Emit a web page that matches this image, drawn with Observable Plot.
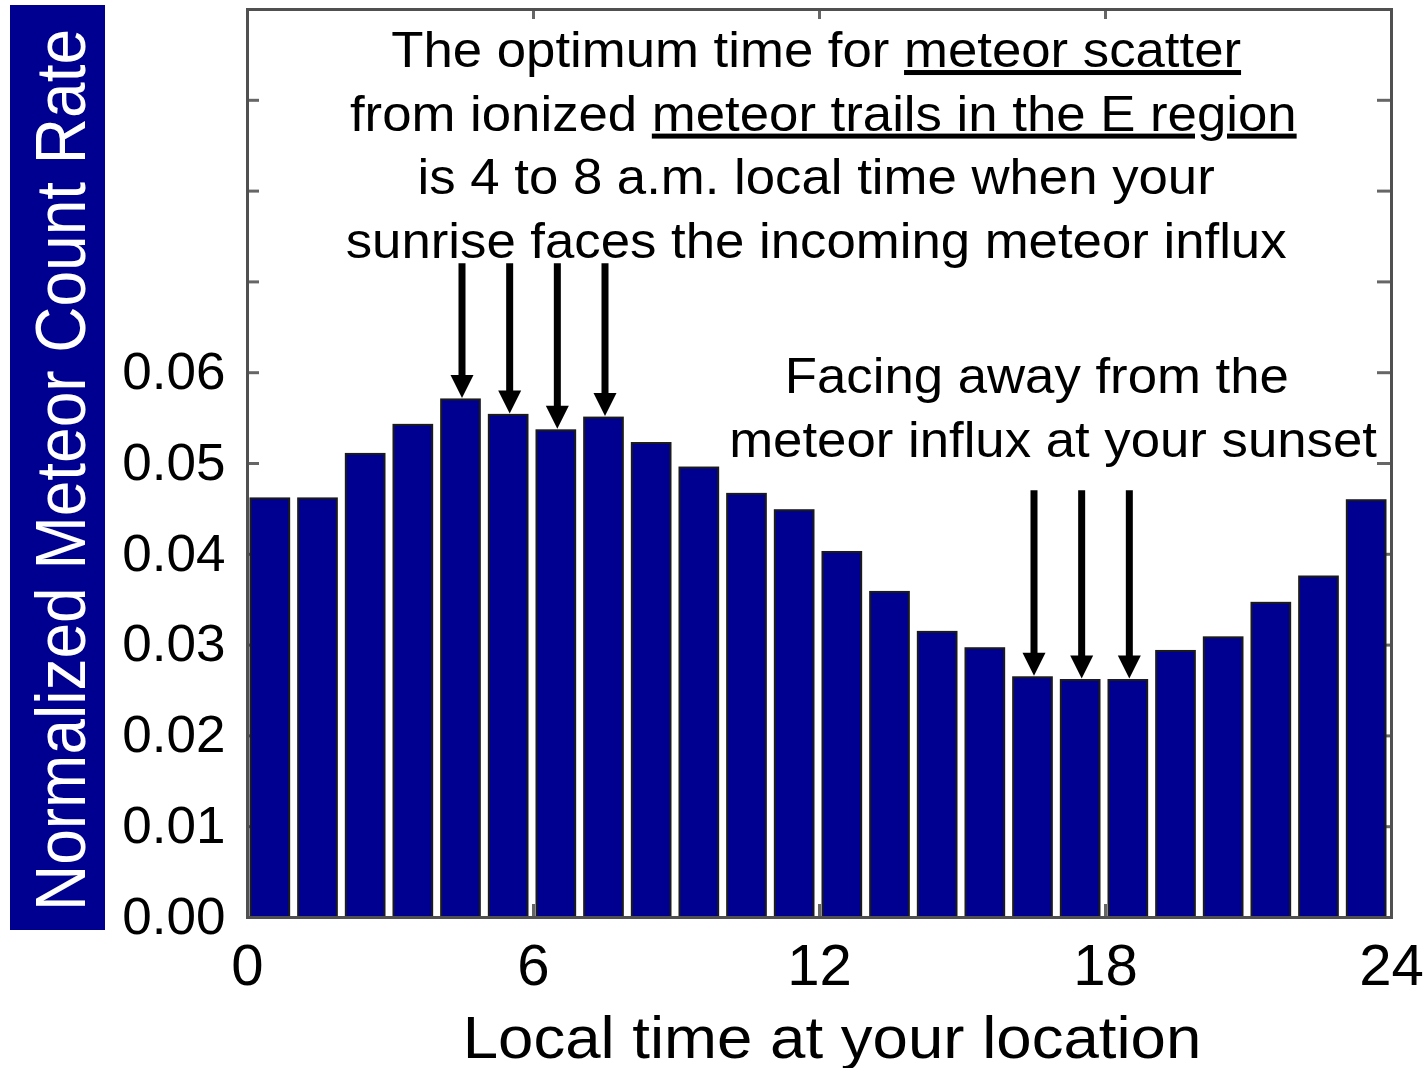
<!DOCTYPE html>
<html><head><meta charset="utf-8">
<script src="https://cdn.jsdelivr.net/npm/d3@7"></script>
<script src="https://cdn.jsdelivr.net/npm/@observablehq/plot@0.6"></script>
<style>html,body{margin:0;padding:0;background:#fff;}</style>
</head><body><div id="chart"></div>
<script>
// ---- data ----
const hours = [0,1,2,3,4,5,6,7,8,9,10,11,12,13,14,15,16,17,18,19,20,21,22,23];
const rates = [0.0461,0.0461,0.0510,0.0542,0.0570,0.0553,0.0536,0.0550,0.0522,0.0495,0.0466,0.0448,
               0.0402,0.0358,0.0314,0.0296,0.0264,0.0261,0.0261,0.0293,0.0308,0.0346,0.0375,0.0459];
const xTickLabels = [0,6,12,18,24];
const xInnerTicks = [6,12,18];
const yTickMarks = [0.01,0.02,0.03,0.04,0.05,0.06,0.07,0.08,0.09];
const yTickLabels = [0,0.01,0.02,0.03,0.04,0.05,0.06];
const sunriseArrowHours = [4,5,6,7];
const sunsetArrowHours = [16,17,18];
const sunriseArrowStart = 0.0720;
const sunsetArrowStart = 0.0470;
const yTitle = "Normalized Meteor Count Rate";
const xTitle = "Local time at your location";
const sunriseNote = [
  {x: 11.94, y: 0.0936, parts: [["The optimum time for ", false], ["meteor scatter", true]]},
  {x: 12.09, y: 0.0866, parts: [["from ionized ", false], ["meteor trails in the E region", true]]},
  {x: 11.94, y: 0.0796, parts: [["is 4 to 8 a.m. local time when your", false]]},
  {x: 11.94, y: 0.0726, parts: [["sunrise faces the incoming meteor influx", false]]}
];
const sunsetNote = [
  {x: 16.57, y: 0.0577, parts: [["Facing away from the", false]]},
  {x: 16.91, y: 0.0507, parts: [["meteor influx at your sunset", false]]}
];

const bars = hours.map((h, i) => ({h, v: rates[i]}));
const arrows = [
  ...sunriseArrowHours.map(h => ({x: h + 0.5, y1: sunriseArrowStart, y2: rates[h]})),
  ...sunsetArrowHours.map(h => ({x: h + 0.5, y1: sunsetArrowStart, y2: rates[h]}))
];

// ---- layout ----
const W = 1428, H = 1068;
const mL = 247, mR = 37, mT = 9, mB = 151;
const PW = W - mL - mR, PH = H - mT - mB;
const NAVY = "#000090";
const FONT = "'Liberation Sans', Arial, Helvetica, sans-serif";

const downTriangle = {
  draw(context, size) {
    const a = Math.sqrt(size / Math.PI);
    context.moveTo(0, a);
    context.lineTo(-a, -a);
    context.lineTo(a, -a);
    context.closePath();
  }
};

const plot = Plot.plot({
  width: W, height: H,
  marginLeft: mL, marginRight: mR, marginTop: mT, marginBottom: mB,
  style: {fontFamily: FONT, background: "white", color: "black", overflow: "visible"},
  x: {domain: [0, 24], axis: null},
  y: {domain: [0, 0.1], axis: null},
  marks: [
    Plot.ruleY(yTickMarks, {stroke: "#666", strokeWidth: 3, insetRight: PW - 12}),
    Plot.ruleY(yTickMarks, {stroke: "#666", strokeWidth: 3, insetLeft: PW - 14}),
    Plot.ruleX(xInnerTicks, {stroke: "#666", strokeWidth: 3, insetBottom: PH - 10}),
    Plot.ruleX(xInnerTicks, {stroke: "#666", strokeWidth: 3, insetTop: PH - 13}),
    Plot.rectY(bars, {x1: "h", x2: d => d.h + 1, y: "v", fill: NAVY, stroke: "#1a1a1a", strokeWidth: 2, insetLeft: 3.5, insetRight: 5.5}),
    Plot.frame({stroke: "#505050", strokeWidth: 3}),
    Plot.axisY(yTickLabels, {tickSize: 0, tickPadding: 22, fontSize: 51, tickFormat: d3.format(".2f")}),
    Plot.axisX(xTickLabels, {tickSize: 0, tickPadding: 27, fontSize: 57, tickFormat: d => String(d)}),
    Plot.ruleX(arrows, {x: "x", y1: "y1", y2: "y2", stroke: "black", strokeWidth: 7, insetBottom: 16}),
    Plot.dot(arrows, {x: "x", y: "y2", symbol: downTriangle, r: 11.5, fill: "black", stroke: null, dy: -13.5})
  ]
});

const svg = d3.select(plot);
// stretch axis tick labels horizontally
function stretch(sel, sx) {
  sel.each(function () {
    const t = this.getAttribute("transform") || "";
    this.setAttribute("transform", t + ` scale(${sx},1)`);
  });
}
stretch(svg.selectAll("g[aria-label='y-axis tick label'] text"), 1.04);
stretch(svg.selectAll("g[aria-label='x-axis tick label'] text"), 1.02);

const xs = plot.scale("x"), ys = plot.scale("y");

// y title box
const yt = svg.append("g");
yt.append("rect").attr("x", 10).attr("y", 5).attr("width", 95).attr("height", 925).attr("fill", NAVY);
yt.append("text")
  .attr("transform", `translate(85,470) scale(1.1,1) rotate(-90)`)
  .attr("text-anchor", "middle").attr("fill", "white")
  .attr("font-family", FONT).attr("font-size", 64)
  .text(yTitle);

// x title
svg.append("text")
  .attr("transform", `translate(${xs.apply(12) + 13},1058) scale(1.06,1)`)
  .attr("text-anchor", "middle").attr("fill", "black")
  .attr("font-family", FONT).attr("font-size", 60)
  .text(xTitle);

// annotations
const ann = svg.append("g").attr("font-family", FONT).attr("font-size", 50)
  .attr("text-anchor", "middle").attr("fill", "black").style("white-space", "pre");
for (const line of [...sunriseNote, ...sunsetNote]) {
  const t = ann.append("text")
    .attr("transform", `translate(${xs.apply(line.x)},${ys.apply(line.y)}) scale(1.055,1)`);
  for (const [s, u] of line.parts) {
    const ts = t.append("tspan").text(s);
    if (u) ts.style("text-decoration", "underline");
  }
}

document.getElementById("chart").appendChild(plot);
</script>
</body></html>
